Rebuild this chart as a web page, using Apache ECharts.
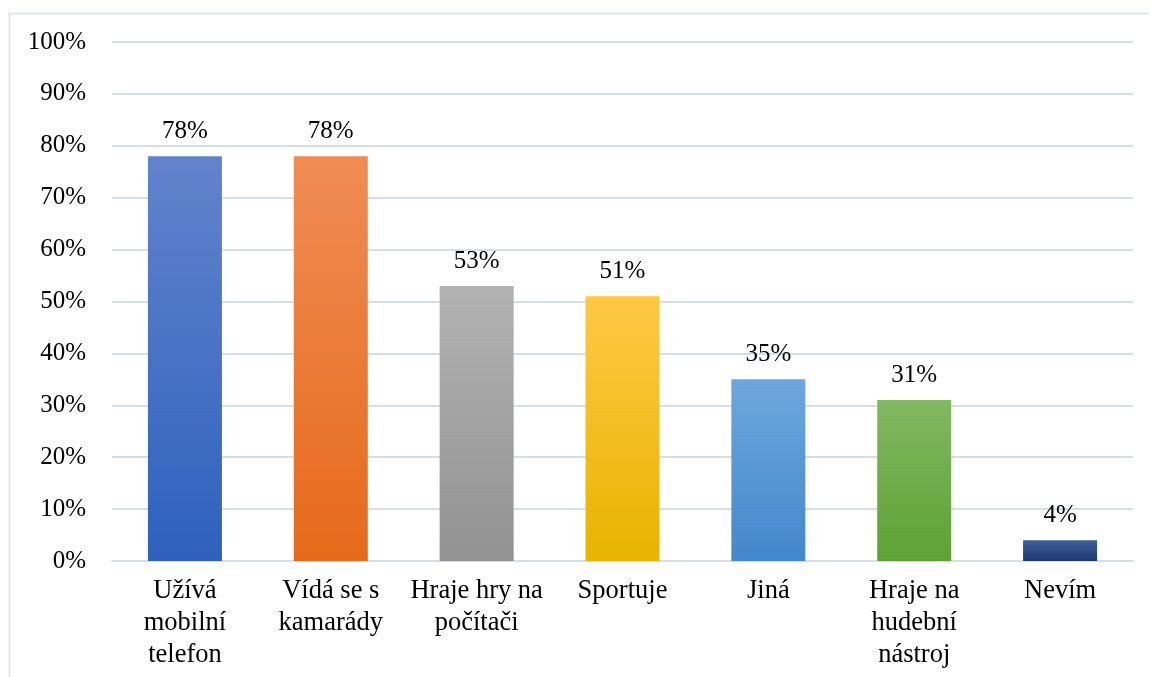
<!DOCTYPE html>
<html>
<head>
<meta charset="utf-8">
<script src="https://cdn.jsdelivr.net/npm/echarts@6/dist/echarts.min.js"></script>
<style>
html,body{margin:0;padding:0;background:#fff;}
#c{width:1149px;height:677px;}
</style>
</head>
<body>
<div id="c"></div>
<script>
const categories = ['Užívá\nmobilní\ntelefon', 'Vídá se s\nkamarády', 'Hraje hry na\npočítači', 'Sportuje', 'Jiná', 'Hraje na\nhudební\nnástroj', 'Nevím'];
const values = [78, 78, 53, 51, 35, 31, 4];
const yTicks = [0, 10, 20, 30, 40, 50, 60, 70, 80, 90, 100];
const barColors = [
  ['#6283CC', '#2E61BD'],
  ['#F08C55', '#E66A1A'],
  ['#B2B2B2', '#929292'],
  ['#FFC845', '#E8B400'],
  ['#6EA7DD', '#4388CC'],
  ['#82B862', '#5DA133'],
  ['#3F5E98', '#1C3874']
];
const FONT = '"Liberation Serif", "Times New Roman", serif';
const chart = echarts.init(document.getElementById('c'));
chart.setOption({
  animation: false,
  backgroundColor: '#fff',
  graphic: [{
    type: 'rect',
    shape: { x: 9.5, y: 13.5, width: 1300, height: 800 },
    style: { fill: 'none', stroke: '#D9DEE5', lineWidth: 1.5 },
    silent: true
  }],
  grid: { left: 112, right: 16, top: 42, bottom: 116, containLabel: false },
  xAxis: {
    type: 'category',
    data: categories,
    axisLine: { show: true, lineStyle: { color: '#D9DEE5', width: 2 } },
    axisTick: { show: false },
    axisLabel: {
      color: '#000', fontFamily: FONT, fontSize: 26.5, lineHeight: 32,
      margin: 14, interval: 0, align: 'center'
    }
  },
  yAxis: {
    type: 'value',
    min: 0, max: 100, interval: 10,
    axisLine: { show: false },
    axisTick: { show: false },
    splitLine: { lineStyle: { color: '#D9DEE5', width: 2 } },
    axisLabel: {
      color: '#000', fontFamily: FONT, fontSize: 25, margin: 26,
      formatter: function (v) { return yTicks.indexOf(v) >= 0 ? v + '%' : ''; }
    }
  },
  series: [{
    type: 'bar',
    barWidth: 74,
    data: values.map(function (v, i) {
      return {
        value: v,
        itemStyle: {
          color: new echarts.graphic.LinearGradient(0, 0, 0, 1, [
            { offset: 0, color: barColors[i][0] },
            { offset: 1, color: barColors[i][1] }
          ])
        }
      };
    }),
    label: {
      show: true, position: 'top', distance: 12,
      color: '#000', fontFamily: FONT, fontSize: 25,
      formatter: function (p) { return p.value + '%'; }
    }
  }]
});
</script>
</body>
</html>
